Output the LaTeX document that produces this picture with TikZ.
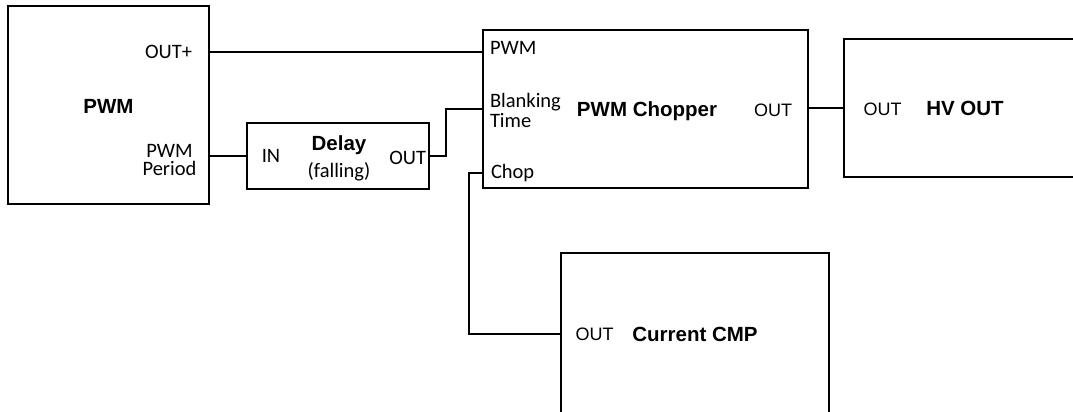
\documentclass[tikz,border=0pt]{standalone}
\usepackage{fontspec}
\setmainfont{Liberation Sans}
\newfontfamily\portfont{Carlito}
\usepackage{tikz}

\begin{document}
\begin{tikzpicture}[x=1pt, y=-1pt, line width=2pt,
  block/.style={draw, inner sep=0pt},
  blocktitle/.style={font=\fontsize{20.5}{24}\selectfont\bfseries, inner sep=0pt},
  portlbl/.style={font=\portfont\fontsize{20.5}{20}\selectfont, inner sep=0pt},
  pinlbl/.style={font=\fontsize{18}{20}\selectfont, inner sep=0pt}]
  \useasboundingbox (0,0) rectangle (1073,412);
  \clip (0,0) rectangle (1073,412);
  % blocks
  \node[block, minimum width=201pt, minimum height=198pt] (pwm) at (108.5,105) {};
  \node[block, minimum width=182pt, minimum height=66pt] (delay) at (338,156) {};
  \node[block, minimum width=325pt, minimum height=158pt] (chopper) at (645.5,109) {};
  \node[block, minimum width=266pt, minimum height=138pt] (hvout) at (977,108) {};
  \node[block, minimum width=268pt, minimum height=197pt] (cmp) at (695,351.5) {};
  % block titles
  \node[blocktitle, anchor=base] (pwmname) at (108.5,113.3) {PWM};
  \node[blocktitle, anchor=base] (delayname) at (339,150.7) {Delay};
  \node[portlbl, anchor=base] (delaynote) at (339,177) {(falling)};
  \node[blocktitle, anchor=base] (choppername) at (647,116.6) {PWM Chopper};
  \node[blocktitle, anchor=base] (hvname) at (965,115.7) {HV OUT};
  \node[blocktitle, anchor=base] (cmpname) at (695,341.7) {Current CMP};
  % port labels
  \node[portlbl, anchor=base east] (outplus) at (193,58.3) {OUT+};
  \node[portlbl, align=center, font=\portfont\fontsize{20.5}{16}\selectfont] (period) at (169.5,160) {PWM\\[2pt]Period};
  \node[portlbl, anchor=base] (delayin) at (271,162.7) {IN};
  \node[portlbl, anchor=base east] (delayout) at (427,164) {OUT};
  \node[portlbl, anchor=base west] (pwmin) at (489,55) {PWM};
  \node[portlbl, anchor=west, align=left] (blanklbl) at (489,110) {Blanking\\Time};
  \node[portlbl, anchor=base west] (choplbl) at (490,178.3) {Chop};
  \node[pinlbl, anchor=base] (chopout) at (773,116.6) {OUT};
  \node[pinlbl, anchor=base] (hvin) at (882.5,115.7) {OUT};
  \node[pinlbl, anchor=base] (cmpout) at (594.5,340) {OUT};
  % connections
  \draw (pwm.east |- outplus) -- (chopper.west |- outplus);
  \draw (pwm.east |- delay.west) -- (delay.west);
  \draw (delay.east) -- ++(16,0) |- (chopper.west);
  \draw (chopper.west |- choplbl) -- ++(-13,0) |- (cmp.west |- cmpout);
  \draw (hvout.west) -- (hvout.west -| chopper.east);
\end{tikzpicture}
\end{document}
